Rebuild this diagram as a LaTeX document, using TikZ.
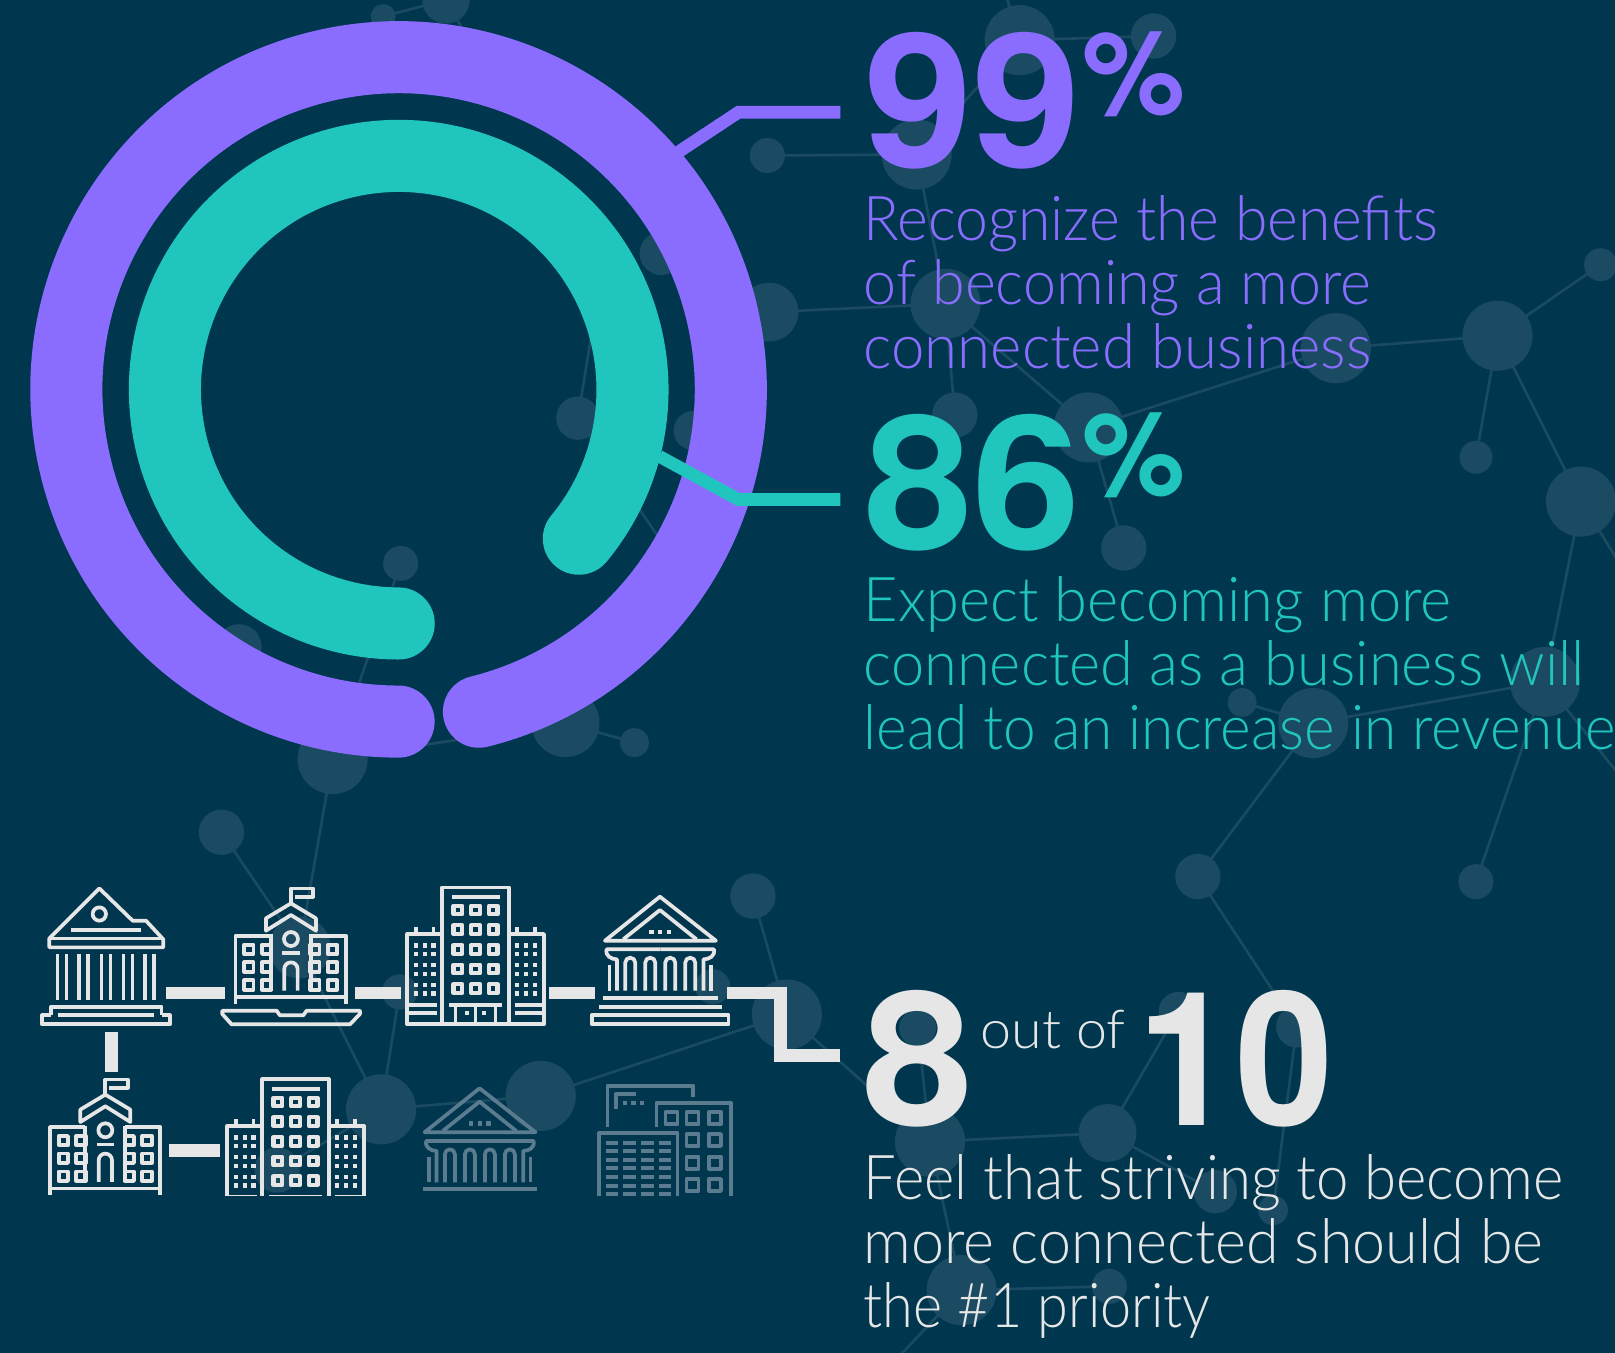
\documentclass[tikz,border=0pt]{standalone}
\usepackage{fontspec}
\usepackage{graphicx}
\setmainfont{TeX Gyre Heros}
\newfontfamily\lightf{Lato Light}
\definecolor{bgc}{HTML}{00374F}
\definecolor{bubc}{HTML}{1B4B63}
\definecolor{purp}{HTML}{8A6DFF}
\definecolor{teal2}{HTML}{20C6BE}
\definecolor{lite}{HTML}{E6E6E6}
\definecolor{dim}{HTML}{5B7C8F}
\newsavebox\fitbox
\newcommand{\fitline}[2]{\sbox\fitbox{#2}\pgfmathsetmacro\fitr{#1*0.75/\the\wd\fitbox}\scalebox{\fitr}[1]{\usebox\fitbox}}
\newcommand{\bub}[4]{\node[bubble,minimum size=#4*1.5pt] (#1) at (#2,#3) {};}
\newcommand{\bodyline}[5]{\node[txt,text=#1] (#2) at (838.5,#3) {\fitline{#4}{\lightf\fontsize{45}{50}\selectfont #5}};}
\newcommand{\bigtxt}[6]{\node[txt,text=#1] (#2) at (#3,#4) {\fitline{#5}{\bfseries\fontsize{136}{140}\selectfont #6}};}
\tikzset{
 bubble/.style={circle,fill=bubc,draw=none,inner sep=0pt},
 net/.style={draw=bubc,line width=1.9pt},
 txt/.style={anchor=base west,inner sep=0pt,outer sep=0pt},
 bar/.style={draw=lite,line width=9.2pt,line join=miter},
 lead/.style={line width=9.2pt,line join=miter},
 icon/.style={line width=2.7pt,line join=round,line cap=butt},
 bankA/.pic={
  \draw (88,205) -- (238,55) -- (338,152) -- (378,152) -- (430,208) -- (430,232) -- (88,232) -- cycle;
  \draw (88,205) -- (430,205);
  \draw (238,132) circle[radius=20];
  \draw (153,179) -- (363,179);
  \foreach \c in {113,140,178,205,245,272,311,338,376,403} {\draw (\c,252) -- (\c,390);}
  \draw (93,436) -- (93,410) -- (425,410) -- (425,436);
  \draw (113,436) -- (403,436);
  \draw (93,436) -- (67,436) -- (67,463) -- (450,463) -- (450,436) -- (425,436);
 },
 schoolpic/.pic={
  \draw (813,100) -- (813,55) -- (880,55) -- (880,80) -- (825,80);
  \draw (738,145) -- (813,100) -- (888,145) -- (888,182) -- (813,135) -- (738,182) -- cycle;
  \draw (753,197) -- (647,197) -- (647,402);
  \draw (873,197) -- (978,197) -- (978,402);
  \draw (753,193) -- (753,362);
  \draw (873,193) -- (873,362);
  \draw (647,382) -- (978,382);
  \draw (813,207) circle[radius=21];
  \draw (787,250) -- (840,250);
  \draw (793,362) -- (793,297) arc[start angle=180,end angle=360,radius=20] -- (833,362);
  \foreach \c in {687,740,885,938} {\foreach \r in {238,291,345} {\draw (\c-14,\r-14) rectangle (\c+14,\r+14);}}
 },
 schoolbase/.pic={
  \draw (607,422) -- (770,422) -- (780,436) -- (850,436) -- (860,422) -- (1020,422) -- (1020,432) -- (990,463) -- (635,463) -- (607,432) -- cycle;
 },
 towerpic/.pic={
  \draw (157,465) -- (157,52) -- (357,52) -- (357,465);
  \draw (185,80) -- (330,80);
  \foreach \c in {204,257,310} {\foreach \r in {120,179,238,297,356} {\draw[line width=3.1pt] (\c-13,\r-13) rectangle (\c+13,\r+13);}}
  \draw (178,404) -- (337,404);
  \draw (197,404) -- (197,462);
  \draw (257,404) -- (257,462);
  \draw (317,404) -- (317,462);
  \fill (224,424) rectangle (236,436);
  \fill (277,424) rectangle (289,436);
  \draw (157,192) -- (52,192) -- (52,463) -- (462,463) -- (462,192) -- (357,192);
  \foreach \c in {79,131,382,435} {\draw (\c,172) -- (\c,192);}
  \foreach \c in {79,105,131,382,408,435} {\foreach \r in {226,252,285,311,344,370} {\fill (\c-6.5,\r-6.5) rectangle (\c+6.5,\r+6.5);}}
  \draw (55,404) -- (140,404);
  \draw (55,430) -- (140,430);
  \draw (375,404) -- (460,404);
  \draw (375,430) -- (460,430);
 },
 bankB/.pic={
  \draw (645,212) -- (810,80) -- (978,212) -- cycle;
  \draw (700,208) -- (810,120) -- (920,208);
  \foreach \c in {785,811,837} {\fill (\c-6.5,179) rectangle (\c+6.5,192);}
  \draw (811,238) -- (650,238) .. controls (645,258) and (665,268) .. (681,268) -- (681,362);
  \draw (811,238) -- (972,238) .. controls (977,258) and (957,268) .. (941,268) -- (941,362);
  \draw (659,285) -- (659,362);
  \draw (963,285) -- (963,362);
  \foreach \c in {-90,-30,30,90} {\draw (811+\c-15,362) -- (811+\c-15,278) arc[start angle=180,end angle=360,radius=15] -- (811+\c+15,362);}
  \draw (640,383) -- (983,383);
  \draw (627,410) -- (996,410);
  \draw (606,435) rectangle (1016,463);
 },
 officepic/.pic={
  \draw (653,770) -- (653,647) -- (910,647) -- (910,680);
  \draw (678,717) -- (678,672) -- (738,672);
  \foreach \c in {705,731,757} {\fill (\c-6.5,692) rectangle (\c+6.5,705);}
  \draw (800,770) -- (800,698) -- (1023,698) -- (1023,990);
  \foreach \c in {845,908,975} {\draw (\c-18,745-18) rectangle (\c+18,745+18);}
  \foreach \c in {908,975} {\foreach \r in {810,878,945} {\draw (\c-18,\r-18) rectangle (\c+18,\r+18);}}
  \draw (627,990) -- (627,790) -- (863,790) -- (863,990);
  \foreach \r in {818,843,870,895,922,948,973} {\foreach \c in {647,700,753,806} {\draw (\c,\r) -- (\c+38,\r);}}
 },
}
\begin{document}
\begin{tikzpicture}[x=0.75pt,y=-0.75pt]
\useasboundingbox (0,0) rectangle (1568,1313.6);
\clip (0,0) rectangle (1568,1313.6);
\fill[bgc] (0,0) rectangle (1568,1313.6);
% background network
\bub{a1}{372}{16}{12}\bub{a2}{433}{0}{23}\bub{a3}{990}{39}{34}\bub{a4}{1120}{35}{22}
\bub{a5}{745}{151}{17}\bub{a6}{890}{150}{34}\bub{a7}{642}{246}{21}\bub{a8}{746.6}{303}{28.5}
\bub{a9}{918}{295}{34}\bub{b1}{927}{403}{22}\bub{b2}{1057}{415}{34}\bub{b3}{1297}{338}{34}
\bub{b4}{1454}{326}{34}\bub{b5}{1554}{257}{16}\bub{b6}{1433}{444}{16}\bub{b7}{1535}{487}{34}
\bub{b8}{561}{406}{21}\bub{b9}{673}{418}{19}\bub{c1}{1091}{532}{22}\bub{c2}{389}{547}{17}
\bub{c3}{232}{628}{22}\bub{c4}{549}{702}{33}\bub{c5}{616}{721}{14}\bub{c6}{323}{737}{34}
\bub{c7}{1206}{682}{14}\bub{c8}{1275}{702}{34}\bub{c9}{1500}{662}{34}\bub{d1}{1163}{851}{22}
\bub{d2}{1433}{856}{17}\bub{d3}{215}{808}{22}\bub{d4}{731}{870}{22}\bub{d5}{291}{920}{30}
\bub{d6}{388}{963}{17}\bub{d7}{370}{1077}{34}\bub{d8}{525}{1064}{34}\bub{d9}{764}{985}{34}
\bub{e1}{692}{958}{17}\bub{e2}{1075.4}{1100}{28}\bub{e3}{903}{1108.4}{34}\bub{e4}{1259}{997}{20}
\bub{e5}{1236}{1175}{14.5}\bub{e6}{933.7}{1252.6}{34}\bub{e7}{1077}{1249}{17}\bub{e8}{269}{1136}{22}
\bub{e9}{1144}{982}{19}\bub{e10}{1180}{1157}{21}\bub{f1}{891}{998}{18}
\coordinate (o1) at (975,-10);\coordinate (o2) at (1590,575);\coordinate (o3) at (1590,775);
\coordinate (o4) at (870,1320);\coordinate (o5) at (645,530);\coordinate (o6) at (450,30);\coordinate (o7) at (580,290);
\foreach \p/\q in {a1/a2,a2/o6,o1/a3,a3/a4,a3/a6,a5/a6,a6/a9,a8/a9,a9/b1,a9/b2,b2/b3,b3/b4,b4/b5,b4/b6,b4/b7,b2/c1,b7/c9,b7/o2,c9/c8,c8/c7,c8/d1,c9/d2,c9/o3,d1/e4,e4/e5,e2/e9,e2/e10,e2/e3,e3/f1,e3/d9,d9/d4,d9/d8,d8/d7,d7/d6,d7/d5,d3/d5,c6/d5,c6/c2,c6/c4,c4/c5,b8/o7,b8/o5,e3/e6,e6/e7,e6/o4,e8/d7} {\draw[net] (\p.center) -- (\q.center);}
% rings
\draw[purp,line width=52.5pt,line cap=round] (465,691) arc[start angle=76,end angle=-270,radius=322.5] coordinate (ringAend);
\draw[teal2,line width=52.5pt,line cap=round] (562,523) arc[start angle=39.6,end angle=-270,radius=227] coordinate (ringBend);
% leaders
\coordinate (l1a) at (655,150);\coordinate (l1b) at (717,109);\coordinate (l1c) at (816,109);
\coordinate (l2a) at (640,443);\coordinate (l2b) at (717,485);\coordinate (l2c) at (816,485);
\draw[lead,purp] (l1a) -- (l1b) -- (l1c);
\draw[lead,teal2] (l2a) -- (l2b) -- (l2c);
% icons row 1
\begin{scope}[lite,icon]
\pic[scale=0.3236] at (19.4,844.7) {bankA};
\pic[scale=0.3236] at (19.4,844.7) {schoolpic};
\pic[scale=0.3236] at (19.4,844.7) {schoolbase};
\pic[scale=0.3236] at (378.6,844.7) {towerpic};
\pic[scale=0.3236] at (378.6,844.7) {bankB};
\end{scope}
% icons row 2, cut off at the foot
\begin{scope}
\clip (0,900) rectangle (1568,1160.8);
\begin{scope}[lite,icon]
\pic[scale=0.3236] at (-160.8,1030.4) {schoolpic};
\pic[scale=0.3236] at (203.8,1031.1) {towerpic};
\end{scope}
\begin{scope}[dim,icon]
\pic[scale=0.3236] at (203.5,1030.7) {bankB};
\pic[scale=0.3236] at (378.6,844.7) {officepic};
\end{scope}
\end{scope}
% connecting bars
\coordinate (s1) at (161,964);\coordinate (e1b) at (218,964);
\coordinate (s2) at (344.6,964);\coordinate (e2b) at (389,964);
\coordinate (s3) at (533,964);\coordinate (e3b) at (578,964);
\coordinate (s4) at (705.4,964);\coordinate (m4a) at (757.5,964);\coordinate (m4b) at (757.5,1025);\coordinate (e4b) at (815.8,1025);
\coordinate (s5) at (108,1001.6);\coordinate (e5b) at (108,1041);
\coordinate (s6) at (164,1117);\coordinate (e6b) at (213.6,1117);
\draw[bar] (s1) -- (e1b);
\draw[bar] (s2) -- (e2b);
\draw[bar] (s3) -- (e3b);
\draw[bar] (s4) -- (m4a) -- (m4b) -- (e4b);
\draw[bar] (s5) -- (e5b);
\draw[bar] (s6) -- (e6b);
% text
\bigtxt{purp}{t99}{838.9}{163}{210}{99}
\node[txt,text=purp] (p99) at (1051,111.5) {\fitline{100}{\bfseries\fontsize{85}{90}\selectfont\%}};
\bodyline{purp}{t1a}{233.5}{558}{Recognize the benefits}
\bodyline{purp}{t1b}{295.5}{493}{of becoming a more}
\bodyline{purp}{t1c}{357.5}{493}{connected business}
\bigtxt{teal2}{t86}{838.9}{533.5}{210}{86}
\node[txt,text=teal2] (p86) at (1051,481.5) {\fitline{100}{\bfseries\fontsize{85}{90}\selectfont\%}};
\bodyline{teal2}{t2a}{603.5}{571}{Expect becoming more}
\bodyline{teal2}{t2b}{665.5}{700}{connected as a business will}
\bodyline{teal2}{t2c}{727.5}{730}{lead to an increase in revenue}
\bigtxt{lite}{t8}{837.8}{1093}{107.4}{8}
\node[txt,text=lite] (tof) at (952,1017.6) {\fitline{141}{\lightf\fontsize{39}{44}\selectfont out of}};
\bigtxt{lite}{t10}{1104}{1093}{190.8}{10}
\bodyline{lite}{t3a}{1165}{679}{Feel that striving to become}
\bodyline{lite}{t3b}{1226.5}{660}{more connected should be}
\bodyline{lite}{t3c}{1288.5}{337}{the \#1 priority}
\end{tikzpicture}
\end{document}
